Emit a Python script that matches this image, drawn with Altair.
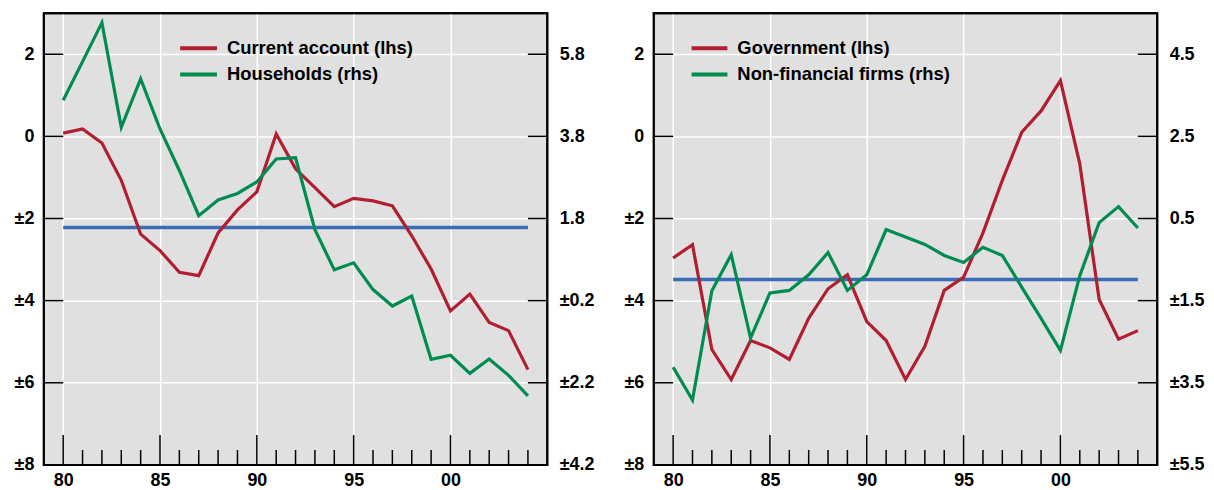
import altair as alt
import pandas as pd

# ---------------- data ----------------
years = list(range(1980, 2005))

current_account = [0.08, 0.18, -0.16, -1.07, -2.38, -2.78, -3.31, -3.39, -2.35, -1.79,
                   -1.35, 0.06, -0.79, -1.25, -1.71, -1.51, -1.57, -1.69, -2.42, -3.23,
                   -4.25, -3.84, -4.53, -4.73, -5.68]
households = [4.68, 5.62, 6.57, 4.02, 5.20, 3.98, 2.97, 1.87, 2.25, 2.41,
              2.69, 3.25, 3.28, 1.53, 0.55, 0.72, 0.07, -0.33, -0.09, -1.63,
              -1.53, -1.97, -1.62, -2.02, -2.52]
government = [-2.96, -2.64, -5.19, -5.92, -4.97, -5.15, -5.43, -4.43, -3.71, -3.37,
              -4.51, -4.97, -5.92, -5.11, -3.75, -3.43, -2.35, -1.07, 0.10, 0.62,
              1.36, -0.67, -3.97, -4.94, -4.73]
firms = [-3.12, -3.92, -1.26, -0.38, -2.41, -1.31, -1.25, -0.87, -0.33, -1.25,
         -0.87, 0.23, 0.05, -0.13, -0.40, -0.57, -0.20, -0.40, -1.17, -1.93,
         -2.71, -0.89, 0.40, 0.79, 0.27]

lhs_ticks = [2, 0, -2, -4, -6, -8]
left_rhs_ticks = [5.8, 3.8, 1.8, -0.2, -2.2, -4.2]
right_rhs_ticks = [4.5, 2.5, 0.5, -1.5, -3.5, -5.5]
x_label_years = [1980, 1985, 1990, 1995, 2000]

lhs_domain = [-8, 3]
left_rhs_domain = [-4.2, 6.8]
right_rhs_domain = [-5.5, 5.5]
x_domain = [1979, 2005]

# ---------------- style ----------------
W, H = 506, 454
RED = "#B01E2F"
GREEN = "#008C50"
BLUE = "#3B6CB6"
FONT = "Liberation Sans"
FS = 18

lhs_expr = "datum.value < 0 ? '±' + format(-datum.value, 'd') : format(datum.value, 'd')"
rhs_expr = "datum.value < 0 ? '±' + format(-datum.value, '.1f') : format(datum.value, '.1f')"
x_expr = "substring(toString(datum.value), 2, 4)"

X_AXIS = alt.Axis(values=x_label_years, grid=True, gridColor="white", gridWidth=1.5,
                  ticks=False, domain=False, labelExpr=x_expr, labelFontSize=FS,
                  labelFontWeight="bold", labelFont=FONT, labelColor="black",
                  labelPadding=7, title=None, labelFlush=False)


def xenc(shorthand="year:Q"):
    return alt.X(shorthand, scale=alt.Scale(domain=x_domain, nice=False, zero=False),
                 axis=X_AXIS)


def panel(lhs_name, lhs_vals, rhs_name, rhs_vals, rhs_domain, rhs_ticks, leg_x0, leg_x1, leg_tx):
    df_l = pd.DataFrame({"year": years, "value": lhs_vals})
    df_r = pd.DataFrame({"year": years, "value": rhs_vals})
    lscale = alt.Scale(domain=lhs_domain, nice=False, zero=False)
    rscale = alt.Scale(domain=rhs_domain, nice=False, zero=False)

    mean_rule = alt.Chart(df_l).mark_rule(color=BLUE, strokeWidth=3.5).encode(
        x=xenc("min(year):Q"),
        x2="max(year):Q",
        y=alt.Y("mean(value):Q", scale=lscale, axis=None),
    )

    lhs_line = alt.Chart(df_l).mark_line(color=RED, strokeWidth=3.2).encode(
        x=xenc(),
        y=alt.Y("value:Q", scale=lscale,
                axis=alt.Axis(orient="left", values=lhs_ticks, grid=True, gridColor="white",
                              gridWidth=1.5, ticks=False, domain=False, labelExpr=lhs_expr,
                              labelFontSize=FS, labelFontWeight="bold", labelFont=FONT,
                              labelColor="black", labelPadding=10, title=None,
                              minExtent=35)),
    )

    rhs_line = alt.Chart(df_r).mark_line(color=GREEN, strokeWidth=3.2).encode(
        x=xenc(),
        y=alt.Y("value:Q", scale=rscale,
                axis=alt.Axis(orient="right", values=rhs_ticks, grid=False, ticks=False,
                              domain=False, labelExpr=rhs_expr, labelFontSize=FS,
                              labelFontWeight="bold", labelFont=FONT, labelColor="black",
                              labelPadding=12, title=None, minExtent=48)),
    )

    tick_df = pd.DataFrame({"v": lhs_ticks[:-1]})
    ytick_l = alt.Chart(tick_df).mark_rule(color="black", strokeWidth=1.5).encode(
        x=alt.value(0), x2=alt.value(19.5),
        y=alt.Y("v:Q", scale=lscale, axis=None),
    )
    ytick_r = alt.Chart(tick_df).mark_rule(color="black", strokeWidth=1.5).encode(
        x=alt.value(W - 19.5), x2=alt.value(W),
        y=alt.Y("v:Q", scale=lscale, axis=None),
    )

    major_df = pd.DataFrame({"year": x_label_years})
    minor_df = pd.DataFrame({"year": [y for y in years if y % 5 != 0]})
    xtick_major = alt.Chart(major_df).mark_rule(color="black", strokeWidth=1.5).encode(
        x=xenc(), y=alt.value(H), y2=alt.value(H - 30),
    )
    xtick_minor = alt.Chart(minor_df).mark_rule(color="black", strokeWidth=1.5).encode(
        x=xenc(), y=alt.value(H), y2=alt.value(H - 15),
    )

    legend_layers = []
    for i, (name, col) in enumerate([(lhs_name, RED), (rhs_name, GREEN)]):
        yy = 35.3 + i * 26.3
        ldf = pd.DataFrame({"label": [name]})
        legend_layers.append(
            alt.Chart(ldf).mark_rule(color=col, strokeWidth=4).encode(
                x=alt.value(leg_x0), x2=alt.value(leg_x1), y=alt.value(yy))
        )
        legend_layers.append(
            alt.Chart(ldf).mark_text(align="left", baseline="middle", fontSize=18.5,
                                     fontWeight="bold", font=FONT, color="black").encode(
                x=alt.value(leg_tx), y=alt.value(yy), text="label:N")
        )

    frame = alt.Chart(pd.DataFrame({"f": [0]})).mark_rect(
        filled=False, stroke="black", strokeWidth=2
    ).encode(x=alt.value(0), x2=alt.value(W), y=alt.value(0), y2=alt.value(H))

    return alt.layer(
        mean_rule, lhs_line, rhs_line, ytick_l, ytick_r, xtick_major, xtick_minor,
        *legend_layers, frame
    ).resolve_scale(y="independent").properties(width=W, height=H)


left = panel("Current account (lhs)", current_account, "Households (rhs)", households,
             left_rhs_domain, left_rhs_ticks, 137, 174, 184)
right = panel("Government (lhs)", government, "Non-financial firms (rhs)", firms,
              right_rhs_domain, right_rhs_ticks, 38, 74, 84)

chart = alt.hconcat(left, right, spacing=22).properties(
    padding={"left": 0, "top": 2, "right": 0, "bottom": 0},
    background="white",
).configure_view(fill="#E0E0E0", stroke="black", strokeWidth=2)

chart.save("out.html", embed_options={"renderer": "svg", "actions": False})
